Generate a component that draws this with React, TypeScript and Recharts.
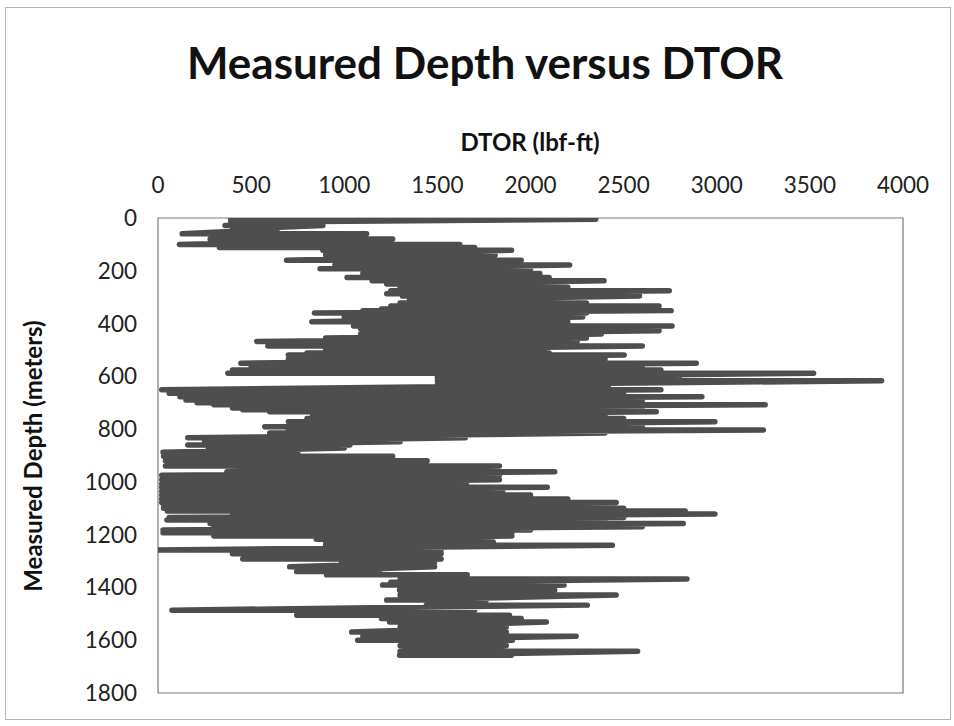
import { Line, LineChart, ReferenceArea, XAxis, YAxis } from "recharts";

// Depth rows (m) and the low / high DTOR (lbf-ft) swing logged at each one
const DEPTH = [
  5, 16, 28, 42, 60, 80, 100, 112, 122, 140, 160, 178, 192, 210, 225, 238, 250, 262, 276, 287,
  296, 310, 322, 333, 345, 351, 360, 375, 393, 409, 420, 427, 440, 455, 468, 485, 500, 512, 519, 535,
  550, 565, 576, 588, 603, 617, 632, 651, 664, 677, 690, 700, 708, 720, 727, 734, 747, 760, 772, 791,
  803, 815, 833, 848, 860, 872, 888, 903, 920, 940, 962, 975, 992, 1008, 1020, 1035, 1050, 1065, 1078, 1090,
  1100, 1110, 1122, 1135, 1144, 1158, 1170, 1182, 1193, 1205, 1217, 1228, 1240, 1258, 1272, 1292, 1305, 1322, 1340, 1352,
  1368, 1380, 1391, 1410, 1429, 1448, 1467, 1486, 1505, 1518, 1531, 1550, 1569, 1585, 1600, 1620, 1642, 1657,
];
const DTOR_LO = [
  390, 390, 360, 400, 130, 280, 115, 330, 885, 900, 690, 950, 870, 1100, 1015, 1150, 1228, 1300, 1250, 1228,
  1313, 1350, 1300, 1250, 1200, 1100, 840, 1000, 826, 1050, 1088, 1100, 1088, 900, 530, 590, 900, 800, 700, 700,
  445, 500, 400, 375, 1500, 1500, 1500, 20, 60, 118, 150, 210, 300, 400, 455, 600, 830, 800, 700, 573,
  700, 600, 160, 250, 160, 270, 27, 30, 40, 40, 370, 20, 20, 20, 20, 20, 20, 20, 20, 30,
  30, 50, 400, 60, 48, 280, 300, 27, 27, 300, 850, 900, 900, 0, 400, 455, 985, 707, 745, 905,
  1300, 1250, 1206, 1297, 1300, 1228, 1440, 75, 745, 1200, 1243, 1300, 1040, 1100, 1072, 1300, 1300, 1297,
];
const DTOR_HI = [
  2350, 885, 885, 640, 1120, 1260, 1620, 1700, 1898, 1810, 1950, 2210, 2000, 2050, 2100, 2395, 2000, 2200, 2745, 2450,
  2585, 2064, 2300, 2690, 2500, 2755, 2300, 2280, 2200, 2760, 2400, 2690, 2380, 2300, 2250, 2600, 2075, 2100, 2503, 2400,
  2890, 2600, 2700, 3520, 2800, 3885, 2420, 2700, 2500, 2920, 2600, 2500, 3260, 2400, 2600, 2675, 2400, 2500, 2990, 2600,
  3250, 2400, 1650, 1300, 1030, 1000, 750, 1260, 1445, 1833, 2130, 1833, 1833, 1656, 2090, 1850, 2000, 2200, 2460, 2300,
  2500, 2830, 2990, 2500, 2400, 2820, 2600, 2000, 1900, 1900, 1700, 1800, 2440, 1520, 1520, 1520, 1485, 1485, 1190, 1660,
  2840, 1900, 2180, 2130, 2460, 1763, 2305, 1700, 1887, 1950, 2085, 1870, 1870, 2245, 1903, 1870, 2575, 1898,
];

const X_TICKS = [0, 500, 1000, 1500, 2000, 2500, 3000, 3500, 4000];
const Y_TICKS = [0, 200, 400, 600, 800, 1000, 1200, 1400, 1600, 1800];

// one stroke per row: lo -> hi, then a null so the line breaks before the next row
const trace = DEPTH.flatMap((depth, i) => [
  { depth, dtor: DTOR_LO[i] },
  { depth, dtor: DTOR_HI[i] },
  { depth, dtor: null },
]);

const FONT = "Lato, 'Open Sans', sans-serif";
const tickStyle = { fill: "#222", fontSize: 22.5, fontFamily: FONT };

export default function App() {
  return (
    <div style={{ position: "absolute", left: 0, top: 0, width: 954, height: 726, background: "#fff", fontFamily: FONT }}>
      {/* page frame */}
      <div style={{ position: "absolute", left: 5, top: 7, width: 944, height: 711, border: "1px solid #b5b5b5" }} />

      {/* title */}
      <div
        style={{
          position: "absolute", left: 0, width: 970, top: 36, textAlign: "center",
          fontSize: 44, fontWeight: 700, color: "#111", lineHeight: "52px",
        }}
      >
        Measured Depth versus DTOR
      </div>

      {/* x axis title */}
      <div
        style={{
          position: "absolute", left: 380, width: 300, top: 128, textAlign: "center",
          fontSize: 24, fontWeight: 700, color: "#111", lineHeight: "28px",
        }}
      >
        DTOR (lbf-ft)
      </div>

      {/* y axis title */}
      <div
        style={{
          position: "absolute", left: 33 - 180, top: 456 - 14, width: 360, textAlign: "center",
          fontSize: 24, fontWeight: 700, color: "#111", lineHeight: "28px",
          transform: "rotate(-90deg)",
        }}
      >
        Measured Depth (meters)
      </div>

      <div style={{ position: "absolute", left: 0, top: 0 }}>
        <LineChart
          width={954}
          height={726}
          data={trace}
          layout="vertical"
          margin={{ top: 178, right: 51, bottom: 33, left: 78 }}
        >
          <XAxis
            type="number"
            dataKey="dtor"
            orientation="top"
            domain={[0, 4000]}
            ticks={X_TICKS}
            height={40}
            axisLine={false}
            tickLine={false}
            tickSize={0}
            tickMargin={25}
            tick={tickStyle}
            allowDataOverflow
          />
          <YAxis
            type="number"
            dataKey="depth"
            domain={[0, 1800]}
            ticks={Y_TICKS}
            width={80}
            axisLine={false}
            tickLine={false}
            tickSize={0}
            tickMargin={21}
            tick={tickStyle}
            allowDataOverflow
          />
          <ReferenceArea x1={0} x2={4000} y1={0} y2={1800} fill="none" stroke="#7a7a7a" strokeWidth={1.2} />
          <Line
            type="linear"
            dataKey="dtor"
            stroke="#4e4e4e"
            strokeWidth={5.5}
            strokeLinecap="round"
            strokeLinejoin="round"
            dot={false}
            activeDot={false}
            isAnimationActive={false}
          />
        </LineChart>
      </div>
    </div>
  );
}
